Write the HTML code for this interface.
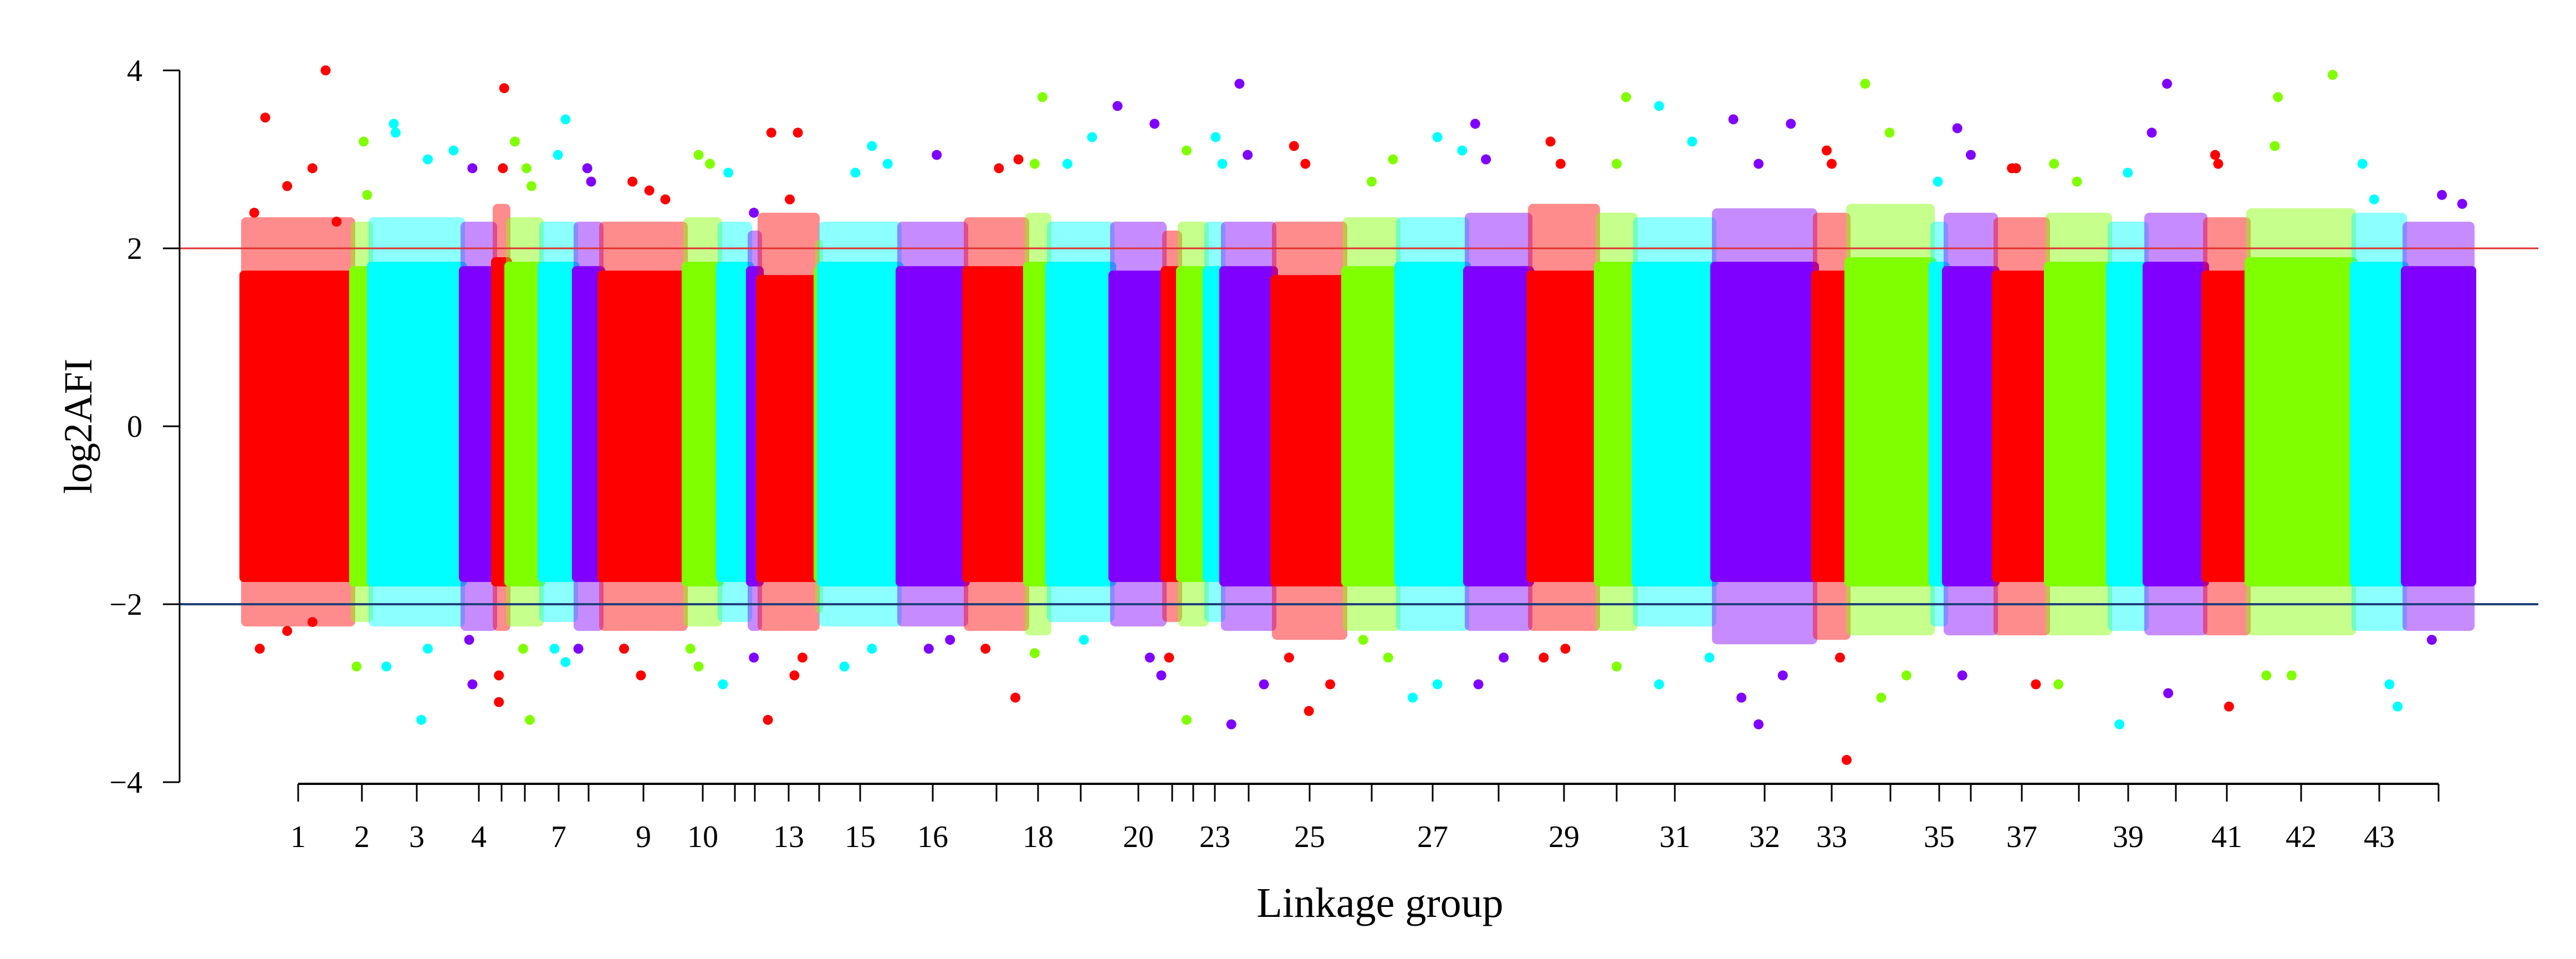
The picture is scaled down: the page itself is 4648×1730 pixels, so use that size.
<!DOCTYPE html>
<html><head><meta charset="utf-8"><style>
html,body{margin:0;padding:0;background:#fff;}
svg{display:block;}
text{font-family:"Liberation Serif",serif;fill:#000;}
</style></head><body>
<svg id="chart" width="4648" height="1730" viewBox="0 0 4648 1730" xmlns="http://www.w3.org/2000/svg">
<g id="bands"></g>
<g id="outliers"></g>
<g id="thresholds"></g>
<g id="yaxis"></g>
<g id="xaxis"></g>
<text x="0" y="0" font-size="72" text-anchor="middle" transform="translate(165,769) rotate(-90)">log2AFI</text>
<text x="2490" y="1654" font-size="76" text-anchor="middle">Linkage group</text>
</svg>
<script>
const groupLengths = [198,32,166,58,24,60,62,46,152,62,54,18,104,6,142,120,110,40,114,94,28,48,30,92,128,96,124,114,122,68,142,182,60,152,24,90,94,112,66,106,78,190,92,122];
const groupLabels = ["1","2","3","4","","","7","","9","10","","","13","","15","16","","18","","20","","","23","","25","","27","","29","","31","32","33","","35","","37","","39","","41","42","43",""];
const bandHi = [1.75,1.8,1.85,1.8,1.9,1.85,1.85,1.8,1.75,1.85,1.85,1.8,1.7,1.8,1.85,1.8,1.8,1.85,1.85,1.75,1.8,1.8,1.8,1.8,1.7,1.8,1.85,1.8,1.75,1.85,1.85,1.85,1.75,1.9,1.85,1.8,1.75,1.85,1.85,1.85,1.75,1.9,1.85,1.8];
const bandLo = [-1.75,-1.8,-1.8,-1.75,-1.8,-1.8,-1.75,-1.75,-1.75,-1.8,-1.75,-1.8,-1.75,-1.75,-1.8,-1.8,-1.75,-1.8,-1.8,-1.75,-1.75,-1.75,-1.75,-1.8,-1.8,-1.8,-1.8,-1.8,-1.75,-1.8,-1.8,-1.75,-1.75,-1.8,-1.8,-1.8,-1.75,-1.8,-1.8,-1.8,-1.75,-1.8,-1.8,-1.8];
const fringeHi = [2.35,2.3,2.35,2.3,2.5,2.35,2.3,2.3,2.3,2.35,2.3,2.2,2.4,2.1,2.3,2.3,2.35,2.4,2.3,2.3,2.2,2.3,2.3,2.3,2.3,2.35,2.35,2.4,2.5,2.4,2.35,2.45,2.4,2.5,2.3,2.4,2.35,2.4,2.3,2.4,2.35,2.45,2.4,2.3];
const fringeLo = [-2.25,-2.2,-2.25,-2.3,-2.3,-2.25,-2.2,-2.3,-2.3,-2.25,-2.2,-2.3,-2.3,-2.1,-2.25,-2.25,-2.3,-2.35,-2.2,-2.25,-2.2,-2.25,-2.2,-2.3,-2.4,-2.3,-2.3,-2.3,-2.3,-2.3,-2.25,-2.45,-2.4,-2.35,-2.25,-2.35,-2.35,-2.35,-2.3,-2.35,-2.35,-2.35,-2.3,-2.3];
const outGroup = [1,1,1,1,1,1,1,1,1,2,2,2,3,3,3,3,3,3,3,4,4,4,5,5,5,5,6,6,6,6,6,7,7,7,7,8,8,8,9,9,9,9,9,10,10,10,10,11,11,12,12,13,13,13,13,13,13,15,15,15,15,15,16,16,16,17,17,17,17,18,18,18,19,19,19,20,20,20,20,21,22,22,23,23,24,24,24,24,25,25,25,25,25,26,26,26,26,27,27,27,27,28,28,28,28,29,29,29,29,30,30,30,31,31,31,31,32,32,32,32,32,32,33,33,33,33,34,34,34,34,35,36,36,36,37,37,37,38,38,38,39,39,40,40,40,41,41,41,42,42,42,42,42,43,43,43,43,44,44,44];
const outPos = [0.2,0.75,0.63,0.4,0.1,0.85,0.15,0.4,0.63,0.6,0.8,0.2,0.25,0.27,0.62,0.9,0.55,0.17,0.62,0.3,0.3,0.2,0.7,0.6,0.3,0.3,0.2,0.55,0.7,0.65,0.45,0.7,0.48,0.7,0.38,0.45,0.6,0.1,0.37,0.57,0.76,0.47,0.27,0.38,0.71,0.38,0.14,0.28,0.1,0.4,0.4,0.2,0.66,0.52,0.14,0.6,0.74,0.65,0.44,0.85,0.3,0.65,0.56,0.44,0.76,0.86,0.54,0.81,0.32,0.7,0.35,0.35,0.68,0.29,0.55,0.1,0.81,0.72,0.94,0.3,0.25,0.25,0.55,0.95,0.32,0.48,0.16,0.8,0.28,0.44,0.49,0.79,0.21,0.9,0.5,0.34,0.81,0.57,0.93,0.21,0.57,0.13,0.3,0.18,0.58,0.3,0.45,0.2,0.52,0.75,0.5,0.5,0.3,0.72,0.3,0.94,0.19,0.76,0.44,0.44,0.27,0.68,0.35,0.5,0.95,0.75,0.2,0.49,0.39,0.69,0.4,0.23,0.5,0.33,0.31,0.39,0.77,0.1,0.47,0.17,0.49,0.26,0.35,0.09,0.37,0.23,0.3,0.55,0.8,0.28,0.25,0.41,0.17,0.17,0.4,0.86,0.7,0.55,0.85,0.4,0.22,0.84,0.15,0.88,0.5];
const outVal = [3.47,4.0,2.9,2.7,2.4,2.3,-2.5,-2.3,-2.2,3.2,2.6,-2.7,3.4,3.3,3.0,3.1,-3.3,-2.7,-2.5,2.9,-2.9,-2.4,3.8,2.9,-3.1,-2.8,3.2,2.9,2.7,-3.3,-2.5,3.45,3.05,-2.65,-2.5,2.9,2.75,-2.5,2.75,2.65,2.55,-2.8,-2.5,3.05,2.95,-2.7,-2.5,2.85,-2.9,2.4,-2.6,3.3,3.3,2.55,-3.3,-2.8,-2.6,3.15,2.85,2.95,-2.7,-2.5,3.05,-2.5,-2.4,3.0,2.9,-3.05,-2.5,3.7,2.95,-2.55,3.25,2.95,-2.4,3.6,3.4,-2.6,-2.8,-2.6,3.1,-3.3,3.25,2.95,3.85,3.05,-3.35,-2.9,3.15,2.95,-3.2,-2.9,-2.6,3.0,2.75,-2.4,-2.6,3.25,3.1,-3.05,-2.9,3.4,3.0,-2.9,-2.6,3.2,2.95,-2.6,-2.5,3.7,2.95,-2.7,3.6,3.2,-2.9,-2.6,3.45,3.4,2.95,-3.35,-3.05,-2.8,3.1,2.95,-3.75,-2.6,3.85,3.3,-3.05,-2.8,2.75,3.35,3.05,-2.8,2.9,2.9,-2.9,2.95,2.75,-2.9,2.85,-3.35,3.85,3.3,-3.0,3.05,2.95,-3.15,3.95,3.7,3.15,-2.8,-2.8,2.95,2.55,-3.15,-2.9,2.6,2.5,-2.4];
const yTicks = [4,2,0,-2,-4];
const yTickLabels = ["4","2","0","\u22122","\u22124"];
const thresholdValues = [2,-2];

const NS = "http://www.w3.org/2000/svg";
const colors = ["#ff0000","#80ff00","#00ffff","#8000ff"];
const totalLen = groupLengths.reduce((a,b)=>a+b,0);
const X0 = 439, X1 = 4461;
function xScale(p){ return X0 + p*(X1-X0)/totalLen; }
function yScale(v){ return 769 - 160.5*v; }
function mk(tag, attrs, parent){ const e=document.createElementNS(NS,tag); for(const k in attrs) e.setAttribute(k,attrs[k]); parent.appendChild(e); return e; }

const starts = []; let acc = 0;
groupLengths.forEach(l=>{ starts.push(acc); acc += l; });

const bands = document.getElementById('bands');
groupLengths.forEach((l,i)=>{
  const xa = xScale(starts[i]) - 7, xb = xScale(starts[i]+l) + 7;
  const fr = mk('rect',{x:xa+3,y:yScale(fringeHi[i]),width:xb-xa-6,height:yScale(fringeLo[i])-yScale(fringeHi[i]),rx:9,fill:colors[i%4],'fill-opacity':0.45},bands);
  
  
  const r = mk('rect',{x:xa,y:yScale(bandHi[i]),width:xb-xa,height:yScale(bandLo[i])-yScale(bandHi[i]),rx:8,fill:colors[i%4]},bands);
  
  
});

const outs = document.getElementById('outliers');
outGroup.forEach((g,k)=>{
  const i = g-1;
  const c = mk('circle',{cx:xScale(starts[i]+outPos[k]*groupLengths[i]),cy:yScale(outVal[k]),r:9,fill:colors[i%4]},outs);
  
  
});

const th = document.getElementById('thresholds');
thresholdValues.forEach((v,k)=>{
  const ln = mk('line',{x1:324,x2:4580,y1:yScale(v),y2:yScale(v),stroke:k===0?'#e03030':'#1f3f7a','stroke-width':k===0?3:4},th);
  
  
});

const ya = document.getElementById('yaxis');
const yl = mk('line',{x1:324,x2:324,y1:yScale(4),y2:yScale(-4),stroke:'#000','stroke-width':3},ya);


yTicks.forEach((v,k)=>{
  const t = mk('line',{x1:294,x2:324,y1:yScale(v),y2:yScale(v),stroke:'#000','stroke-width':3},ya);
  
  
  const tx = mk('text',{x:257,y:yScale(v)+19,'font-size':56,'text-anchor':'end'},ya);
  tx.textContent = yTickLabels[k];
  
  
});

const xa = document.getElementById('xaxis');
const centers = groupLengths.map((l,i)=>xScale(starts[i]+l/2));
const xl = mk('line',{x1:centers[0],x2:centers[centers.length-1],y1:1414,y2:1414,stroke:'#000','stroke-width':4},xa);


centers.forEach((cx,i)=>{
  const t = mk('line',{x1:cx,x2:cx,y1:1414,y2:1446,stroke:'#000','stroke-width':3},xa);
  
  
  if(groupLabels[i]){
    const tx = mk('text',{x:cx,y:1528,'font-size':56,'text-anchor':'middle'},xa);
    tx.textContent = groupLabels[i];
    
    
  }
});
</script>
</body></html>
